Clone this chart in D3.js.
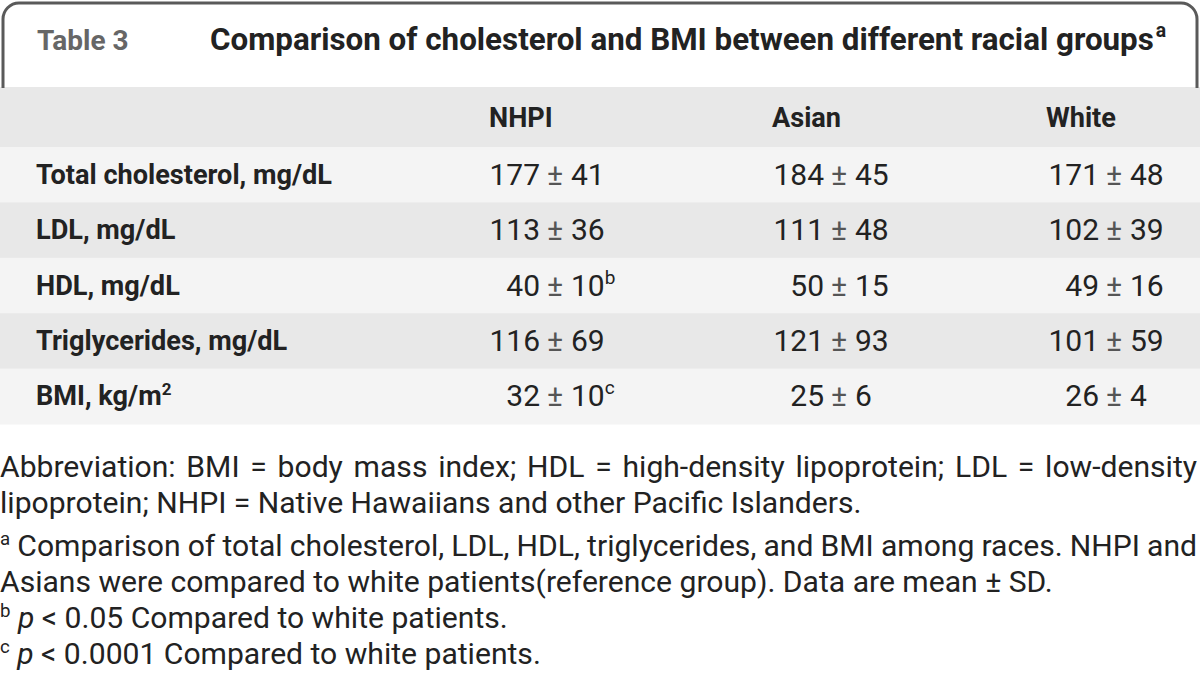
<!DOCTYPE html>
<html><head><meta charset="utf-8">
<script src="https://cdn.jsdelivr.net/npm/d3@7"></script>
<style>html,body{margin:0;padding:0;background:#fff;} svg{display:block;}</style>
</head><body>
<svg id="c" width="1200" height="679"></svg>
<script>
// ---------- data ----------
const tableNumber = "Table 3";
const tableTitle = "Comparison of cholesterol and BMI between different racial groups";
const titleNote = "a";
const groups = ["NHPI", "Asian", "White"];
const measures = ["Total cholesterol, mg/dL", "LDL, mg/dL", "HDL, mg/dL", "Triglycerides, mg/dL", "BMI, kg/m"];
const measureSup = ["", "", "", "", "2"];
const nhpiMean = [177, 113, 40, 116, 32];
const nhpiSD = [41, 36, 10, 69, 10];
const nhpiNote = ["", "", "b", "", "c"];
const asianMean = [184, 111, 50, 121, 25];
const asianSD = [45, 48, 15, 93, 6];
const asianNote = ["", "", "", "", ""];
const whiteMean = [171, 102, 49, 101, 26];
const whiteSD = [48, 39, 16, 59, 4];
const whiteNote = ["", "", "", "", ""];
const footnoteLines = [
  [{t: "Abbreviation: BMI = body mass index; HDL = high-density lipoprotein; LDL = low-density"}],
  [{t: "lipoprotein; NHPI = Native Hawaiians and other Pacific Islanders."}],
  [{t: "a", sup: true}, {t: " Comparison of total cholesterol, LDL, HDL, triglycerides, and BMI among races. NHPI and"}],
  [{t: "Asians were compared to white patients(reference group). Data are mean \u00b1 SD."}],
  [{t: "b", sup: true}, {t: " "}, {t: "p", it: true}, {t: " < 0.05 Compared to white patients."}],
  [{t: "c", sup: true}, {t: " "}, {t: "p", it: true}, {t: " < 0.0001 Compared to white patients."}]
];
const justifiedLines = [0, 2];

// ---------- build ----------
const FONT = "Roboto, 'Liberation Sans', Arial, sans-serif";
const svg = d3.select("#c");
const W = 1200;

const series = {
  NHPI: {mean: nhpiMean, sd: nhpiSD, note: nhpiNote},
  Asian: {mean: asianMean, sd: asianSD, note: asianNote},
  White: {mean: whiteMean, sd: whiteSD, note: whiteNote}
};

const x = d3.scaleOrdinal().domain(groups).range([555, 839, 1114]); // position of ± sign
const headerX = d3.scaleOrdinal().domain(groups).range([489, 772, 1046]);
const y = d3.scaleBand().domain(measures).range([147, 424]).paddingInner(0).paddingOuter(0);

function fit(sel, target) {
  const w = sel.node().getComputedTextLength();
  const fs = parseFloat(sel.attr("font-size"));
  sel.attr("font-size", fs * target / w);
}

// header background + rows
svg.append("rect").attr("x", 0).attr("y", 87).attr("width", W).attr("height", 60).attr("fill", "#e8e8e8");
svg.selectAll("rect.row").data(measures).join("rect").attr("class", "row")
  .attr("x", 0).attr("y", d => y(d)).attr("width", W).attr("height", y.bandwidth() + 0.5)
  .attr("fill", (d, i) => i % 2 === 0 ? "#f4f4f4" : "#e8e8e8");

// frame
const p = d3.path();
const r = 16, L = 3, R = 1197, T = 3, B = 88;
p.moveTo(L, B); p.lineTo(L, T + r); p.arcTo(L, T, L + r, T, r);
p.lineTo(R - r, T); p.arcTo(R, T, R, T + r, r); p.lineTo(R, B);
svg.append("path").attr("d", p.toString()).attr("fill", "none").attr("stroke", "#5a5a5a").attr("stroke-width", 3);

// title
svg.append("text").attr("x", 37).attr("y", 50).attr("font-family", FONT).attr("font-weight", 700)
  .attr("font-size", 28).attr("fill", "#666").text(tableNumber);
const title = svg.append("text").attr("x", 210).attr("y", 50).attr("font-family", FONT).attr("font-weight", 700)
  .attr("font-size", 28).attr("fill", "#222");
title.append("tspan").text(tableTitle);
fit(title, 944);
const tfs = parseFloat(title.attr("font-size"));
title.append("tspan").attr("font-size", tfs * 0.62).attr("dx", 2).attr("dy", -tfs * 0.4).text(titleNote);

// column headers
svg.selectAll("text.hdr").data(groups).join("text").attr("class", "hdr")
  .attr("x", d => headerX(d)).attr("y", 127).attr("font-family", FONT).attr("font-weight", 700)
  .attr("font-size", 27).attr("fill", "#222").text(d => d);

// row labels
const labels = svg.selectAll("text.lbl").data(measures).join("text").attr("class", "lbl")
  .attr("x", 36).attr("y", d => y(d) + y.bandwidth() / 2 + 9)
  .attr("font-family", FONT).attr("font-weight", 700).attr("font-size", 27).attr("fill", "#222");
labels.append("tspan").text(d => d);
labels.filter((d, i) => measureSup[i]).append("tspan").attr("font-size", 17).attr("dy", -10)
  .text((d) => measureSup[measures.indexOf(d)]);
fit(svg.select("text.lbl"), 296);
const lfs = parseFloat(svg.select("text.lbl").attr("font-size"));
labels.attr("font-size", lfs);
svg.selectAll("text.hdr").attr("font-size", lfs);

// values
const cells = [];
groups.forEach(g => measures.forEach((m, i) => cells.push({g, m, mean: series[g].mean[i], sd: series[g].sd[i], note: series[g].note[i]})));
const VFS = 30;
const cg = svg.selectAll("g.cell").data(cells).join("g").attr("class", "cell")
  .attr("transform", d => `translate(${x(d.g)},${y(d.m) + y.bandwidth() / 2 + 10})`)
  .attr("font-family", FONT).attr("font-size", VFS).attr("fill", "#222");
cg.append("text").attr("x", -15).attr("text-anchor", "end").text(d => d.mean);
cg.append("text").attr("x", 0).attr("text-anchor", "middle").attr("fill", "#555").attr("font-size", 30).text("\u00b1");
const sdT = cg.append("text").attr("x", 16);
sdT.append("tspan").text(d => d.sd);
sdT.filter(d => d.note).append("tspan").attr("font-size", 19).attr("dy", -12).text(d => d.note);

// footnotes
const fnBase = [477, 513, 556, 592, 628, 664];
const FFS = 27;
const fn = svg.selectAll("text.fn").data(footnoteLines).join("text").attr("class", "fn")
  .attr("x", 0).attr("y", (d, i) => fnBase[i]).attr("font-family", FONT).attr("font-size", FFS).attr("fill", "#222");
fn.each(function(segs) {
  const t = d3.select(this);
  let raised = false;
  segs.forEach(s => {
    const ts = t.append("tspan").text(s.t);
    if (s.sup) { ts.attr("font-size", FFS * 0.62).attr("dy", -FFS * 0.38); raised = true; }
    else if (raised) { ts.attr("dy", FFS * 0.38); raised = false; }
    if (s.it) ts.attr("font-style", "italic");
  });
});
// fit size using line 4 (natural width)
const ref = svg.selectAll("text.fn").filter((d, i) => i === 3);
const w4 = ref.node().getComputedTextLength();
const nfs = FFS * 1053 / w4;
fn.attr("font-size", nfs);
fn.selectAll("tspan").each(function() {
  const ts = d3.select(this);
  if (ts.attr("font-size")) ts.attr("font-size", nfs * 0.62);
  const dy = ts.attr("dy");
  if (dy) ts.attr("dy", parseFloat(dy) > 0 ? nfs * 0.38 : -nfs * 0.38);
});
// justify
fn.filter((d, i) => justifiedLines.includes(i)).each(function(segs) {
  const t = d3.select(this);
  const w = this.getComputedTextLength();
  const spaces = segs.map(s => s.t).join("").split(" ").length - 1;
  t.attr("word-spacing", (1197 - w) / spaces);
});
</script>
</body></html>
